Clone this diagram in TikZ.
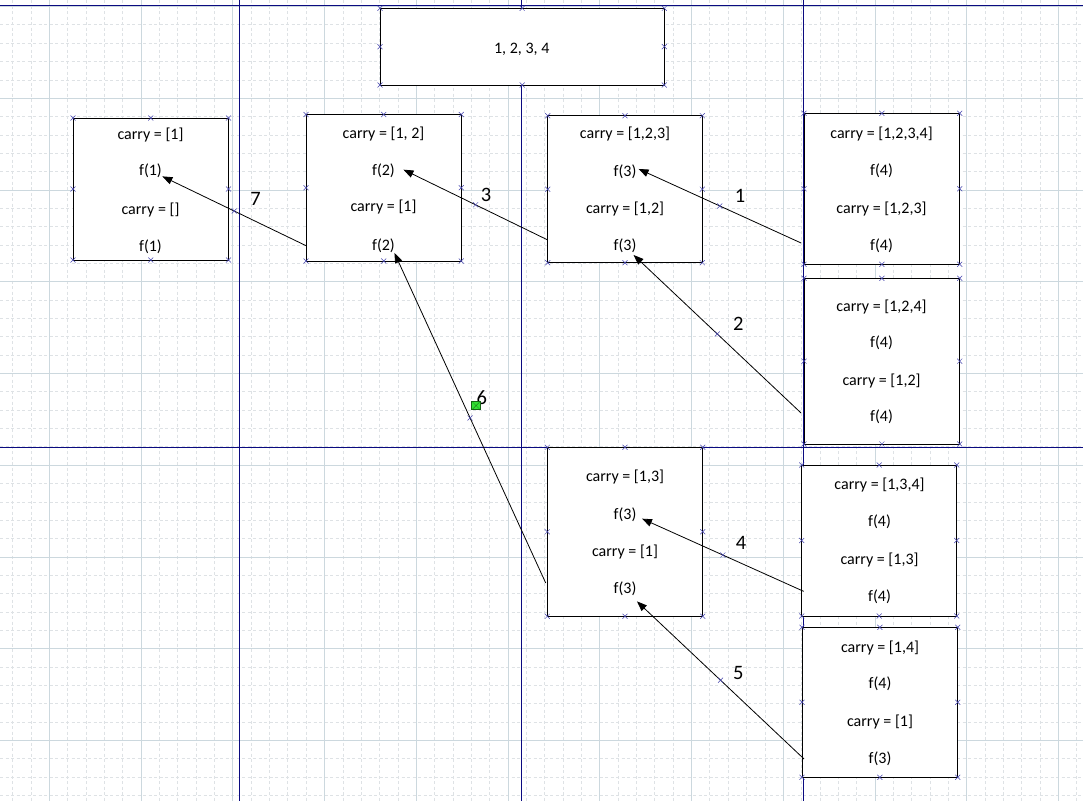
\documentclass[tikz,border=0pt]{standalone}
\usepackage{fontspec}
\setmainfont{Carlito}
\usetikzlibrary{arrows.meta,shapes.misc,calc}
\definecolor{guide}{RGB}{10,10,128}
\definecolor{minorgrid}{RGB}{222,226,229}
\definecolor{majorgrid}{RGB}{204,216,222}
\definecolor{cptcol}{RGB}{70,70,175}
\definecolor{handle}{RGB}{50,225,50}
\definecolor{handleedge}{RGB}{20,100,20}
\begin{document}
\begin{tikzpicture}[x=1pt,y=-1pt,
  minorline/.style={draw=minorgrid,line width=0.7pt,dash pattern=on 3pt off 2.5pt},
  majorline/.style={draw=majorgrid,line width=0.8pt},
  guideline/.style={draw=guide,line width=0.9pt},
  box/.style={draw=black,fill=white,line width=0.9pt,inner sep=0pt,outer sep=0pt},
  txt/.style={font=\fontsize{16}{18}\selectfont,inner sep=0pt,anchor=base},
  lbl/.style={font=\fontsize{20.5}{22}\selectfont,inner sep=0pt},
  cpt/.style={cross out,draw=cptcol,minimum size=4.5pt,inner sep=0pt,line width=0.5pt},
  arr/.style={draw=black,line width=0.8pt,-{Triangle[length=10pt,width=7.5pt]}}]
\useasboundingbox (0,0) rectangle (1083,801);
\fill[white] (0,0) rectangle (1083,801);
% grid
\foreach \i in {-2,...,56} {\draw[minorline] ({49.3+18.348*\i},0) -- ({49.3+18.348*\i},801);}
\foreach \j in {-15,...,28} {\draw[minorline] (0,{281.7+18.348*\j}) -- (1083,{281.7+18.348*\j});}
\foreach \k in {0,...,11} {\draw[majorline] ({49.3+91.74*\k},0) -- ({49.3+91.74*\k},801);}
\foreach \k in {-3,...,5} {\draw[majorline] (0,{281.7+91.74*\k}) -- (1083,{281.7+91.74*\k});}
% guides
\draw[guideline] (239.5,0) -- (239.5,801);
\draw[guideline] (521.5,0) -- (521.5,801);
\draw[guideline] (803.3,0) -- (803.3,801);
\draw[guideline] (0,5) -- (1083,5);
\draw[guideline] (0,447.3) -- (1083,447.3);
% boxes
\node[box,minimum width=284.3pt,minimum height=76.7pt] (T) at (522.15,46.65) {};
\node[box,minimum width=155.5pt,minimum height=142pt] (A) at (150.75,189) {};
\node[box,minimum width=155.3pt,minimum height=146.5pt] (B) at (383.65,187.75) {};
\node[box,minimum width=154.6pt,minimum height=147pt] (C) at (625,189.2) {};
\node[box,minimum width=155.7pt,minimum height=151pt] (D) at (881.85,188.8) {};
\node[box,minimum width=155.7pt,minimum height=165.7pt] (E) at (881.85,361.15) {};
\node[box,minimum width=155.4pt,minimum height=169pt] (F) at (625,531.8) {};
\node[box,minimum width=155pt,minimum height=151pt] (G) at (879.2,540.5) {};
\node[box,minimum width=155.7pt,minimum height=150pt] (H) at (879.85,702.3) {};
% connection points
\foreach \n in {T,A,B,C,D,E,F,G,H}
  \foreach \a in {north west,north,north east,west,east,south west,south,south east}
    \node[cpt] at (\n.\a) {};
% texts
\node[txt] (T1) at (521.7,53.3) {1, 2, 3, 4};
\node[txt] (A1) at (150.5,139.3) {carry = [1]};
\node[txt] (A2) at (150.5,175.7) {f(1)};
\node[txt] (A3) at (150.5,214.3) {carry = []};
\node[txt] (A4) at (150.5,251) {f(1)};
\node[txt] (B1) at (383.5,138.3) {carry = [1, 2]};
\node[txt] (B2) at (383.5,175.7) {f(2)};
\node[txt] (B3) at (383.5,211.7) {carry = [1]};
\node[txt] (B4) at (383.5,250) {f(2)};
\node[txt] (C1) at (625,138.3) {carry = [1,2,3]};
\node[txt] (C2) at (625,176.7) {f(3)};
\node[txt] (C3) at (625,213.3) {carry = [1,2]};
\node[txt] (C4) at (625,250.7) {f(3)};
\node[txt] (D1) at (881.5,138.3) {carry = [1,2,3,4]};
\node[txt] (D2) at (881.5,175.7) {f(4)};
\node[txt] (D3) at (881.5,213.3) {carry = [1,2,3]};
\node[txt] (D4) at (881.5,250.7) {f(4)};
\node[txt] (E1) at (881.5,311) {carry = [1,2,4]};
\node[txt] (E2) at (881.5,347.7) {f(4)};
\node[txt] (E3) at (881.5,385.7) {carry = [1,2]};
\node[txt] (E4) at (881.5,421.7) {f(4)};
\node[txt] (F1) at (625,481.7) {carry = [1,3]};
\node[txt] (F2) at (625,519) {f(3)};
\node[txt] (F3) at (625,556.7) {carry = [1]};
\node[txt] (F4) at (625,593.3) {f(3)};
\node[txt] (G1) at (879.5,489.3) {carry = [1,3,4]};
\node[txt] (G2) at (879.5,526.7) {f(4)};
\node[txt] (G3) at (879.5,564.3) {carry = [1,3]};
\node[txt] (G4) at (879.5,601.7) {f(4)};
\node[txt] (H1) at (880,652.3) {carry = [1,4]};
\node[txt] (H2) at (880,688.3) {f(4)};
\node[txt] (H3) at (880,726.7) {carry = [1]};
\node[txt] (H4) at (880,763.3) {f(3)};
% connectors
\draw[arr] ($(D.west |- D4)+(-3,-3)$) -- node[cpt]{} ($(C2.east)+(2,-3)$);
\draw[arr] ($(E.west |- E4)+(-3,-4)$) -- node[cpt]{} ($(C4.east)+(-3,9)$);
\draw[arr] ($(C.west |- C4)+(0,-6)$) -- node[cpt]{} ($(B2.east)+(8.4,-1.3)$);
\draw[arr] ($(G.west |- G4)+(2,-5.6)$) -- node[cpt]{} ($(F2.east)+(5.4,4.4)$);
\draw[arr] ($(H.west |- H4)+(2,0.4)$) -- node[cpt]{} ($(F4.east)+(0.4,12.8)$);
\draw[arr] ($(F.west |- F4)+(-1.6,-5.6)$) -- node[cpt]{} ($(B4.east)+(-0.6,7.7)$);
\draw[arr] ($(B.west |- B4)+(0,0.4)$) -- node[cpt]{} ($(A2.east)+(0.3,5.4)$);
% labels
\node[lbl] (L1) at (740,195.7) {1};
\node[lbl] (L2) at (738.3,324.3) {2};
\node[lbl] (L3) at (486,195) {3};
\node[lbl] (L4) at (741,543.3) {4};
\node[lbl] (L5) at (738.3,672.7) {5};
\node[lbl] (L6) at (481.7,397.5) {6};
\node[lbl] (L7) at (255.5,199) {7};
% selection handle
\node[fill=handle,draw=handleedge,line width=0.7pt,minimum size=8.5pt,inner sep=0pt] (S) at (476,405.5) {};
\draw[handleedge,line width=0.35pt] ($(S.north west)+(1.2,1.2)$) -- ($(S.south east)+(-1.2,-1.2)$)
  ($(S.north east)+(-1.2,1.2)$) -- ($(S.south west)+(1.2,-1.2)$);
\end{tikzpicture}
\end{document}
